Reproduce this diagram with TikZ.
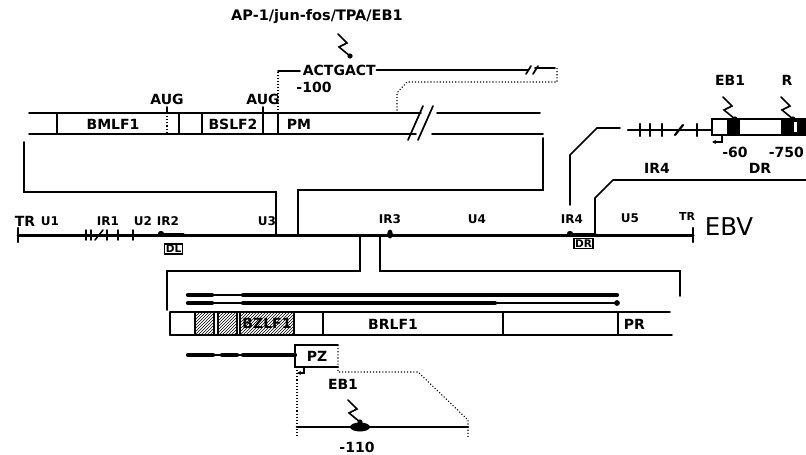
\documentclass[tikz,border=0pt]{standalone}
\usepackage{fontspec}
\setmainfont{DejaVu Sans}
\usetikzlibrary{patterns,arrows.meta}
\begin{document}
\begin{tikzpicture}[x=1pt,y=-1pt, line width=1.7pt, line cap=round,
  lab/.style={font=\bfseries\fontsize{14}{14}\selectfont, inner sep=0pt},
  glab/.style={font=\bfseries\fontsize{12}{12}\selectfont, inner sep=0pt},
  tiny/.style={font=\bfseries\fontsize{10.5}{10.5}\selectfont, inner sep=1.1pt, draw, line width=1.4pt},
  dots/.style={dotted, line width=1.1pt, line cap=butt},
  gline/.style={line width=3pt},
  hatchbox/.style={draw, pattern=north east lines},
  zap/.pic={\draw[line width=1.6pt] (-12,-22)--(-3,-13)--(-11,-9)--(0,0); \fill (0,0) circle (2.6);},
  tss/.style={-{Stealth[length=4pt,width=4pt]}, line width=1.3pt}
]
\useasboundingbox (0,0) rectangle (806,455);

% ---------- top: AP-1 site ----------
\node[font=\bfseries\fontsize{14.5}{15}\selectfont, inner sep=0pt] (ap1) at (317,17) {AP-1/jun-fos/TPA/EB1};
\pic at (350,56) {zap};
\draw[dots] (278,113) -- (278,71);
\draw (278,71) -- (300,71);
\node[lab, anchor=west] (actg) at (302,70) {ACTGACT};
\draw (actg.east) -- (528,70);
\draw (526,74) -- (531,66) (533,74) -- (538,66);
\draw (535,68) -- (555,68);
\draw[dots] (557,68) -- (557,82) -- (407,82) -- (397,93) -- (397,113);
\node[lab] (m100) at (314,87) {-100};

% ---------- top box (BMLF1/BSLF2) ----------
\draw (29,113) -- (421,113) (437,113) -- (540,113);
\draw (29,134) -- (416,134) (432,134) -- (543,134);
\draw (408,140) -- (423,106) (418,140) -- (433,106);
\draw (57,113) -- (57,134);
\draw[dots] (167,113) -- (167,134);
\draw (167,107) -- (167,113);
\draw (179,113) -- (179,134);
\draw (202,113) -- (202,134);
\draw (263,107) -- (263,134);
\draw (278,113) -- (278,134);
\node[lab] (aug1) at (167,99) {AUG};
\node[lab] (aug2) at (263,99) {AUG};
\node[lab] (bmlf) at (113,124) {BMLF1};
\node[lab] (bslf) at (233,124) {BSLF2};
\node[lab, anchor=west] (pm) at (286,124) {PM};

% bracket to genome
\draw (24,142) -- (24,192) -- (276,192) -- (276,235);
\draw (298,235) -- (298,190) -- (543,190) -- (543,138);

% ---------- genome line ----------
\draw[gline] (18,235) -- (693,235);
\draw[line width=2.2pt] (18,228) -- (18,242) (693,228) -- (693,242);
\foreach \x in {86,91,107,118,133} \draw[line width=1.5pt] (\x,230) -- (\x,240);
\draw[line width=1.5pt] (95,240) -- (103,230);
\node[font=\bfseries\fontsize{14}{14}\selectfont, inner sep=0pt] (tr1) at (25,221) {TR};
\node[glab] (u1) at (50,221) {U1};
\node[glab] (ir1) at (108,221) {IR1};
\node[glab] (u2) at (143,221) {U2};
\node[glab] (ir2) at (168,221) {IR2};
\node[glab] (u3) at (267,221) {U3};
\node[glab] (ir3) at (390,219) {IR3};
\node[glab] (u4) at (477,219) {U4};
\node[glab] (ir4) at (572,219) {IR4};
\node[glab] (u5) at (630,218) {U5};
\node[font=\bfseries\fontsize{11}{11}\selectfont, inner sep=0pt] (tr2) at (687,216) {TR};
\node[font=\fontsize{24.5}{24.5}\selectfont, inner sep=0pt, anchor=west] (ebv) at (704,227) {EBV};
% IR2 / DL
\draw[line width=4pt] (161,235) -- (183,235);
\fill (161,234) circle (3.2);
\node[tiny] (dl) at (173.5,249) {DL};
% IR3
\fill (390,234) ellipse (2.8 and 4.5);
% IR4 / DR
\draw[line width=4pt] (570,235) -- (595,235);
\fill (570,234) circle (3.2);
\node[tiny] (dr) at (583.5,243.5) {DR};

% ---------- right: IR4 / DR detail ----------
\draw (570,205) -- (570,155) -- (597,128) -- (620,128);
\draw[line width=2.2pt] (628,130) -- (712,130);
\foreach \x in {640,650,662,697} \draw[line width=2.2pt] (\x,124) -- (\x,136);
\draw[line width=2.2pt] (675,135) -- (683,125);
\fill (727,119) rectangle (740,135);
\fill (781,119) rectangle (808,135);
\fill[white] (794,122) rectangle (797,132);
\draw[line width=2.6pt] (712,119) rectangle (808,135);
\pic at (735,119) {zap};
\pic at (793,119) {zap};
\node[lab] (eb1a) at (730,80) {EB1};
\node[lab] (r) at (787,80) {R};
\draw[tss] (722,136) -- (722,142) -- (712,142);
\node[lab] (m60) at (735,152) {-60};
\node[lab, anchor=west] (m750) at (768,152) {-750};
\node[lab] (ir4b) at (657,168) {IR4};
\node[lab] (drb) at (760,168) {DR};
\draw (595,235) -- (595,198) -- (613,180) -- (810,180);

% ---------- lower bracket ----------
\draw (360,235) -- (360,271) -- (167,271) -- (167,310);
\draw (380,235) -- (380,271) -- (680,271) -- (680,296);

% transcripts
\draw[line width=4.2pt] (188,295) -- (212,295) (243,295) -- (617,295);
\draw[line width=2.4pt] (212,295) -- (243,295);
\draw[line width=4.2pt] (188,303) -- (212,303) (243,303) -- (495,303);
\draw[line width=2.4pt] (212,303) -- (243,303) (495,303) -- (617,303);
\fill (617,303) circle (2.9);

% ---------- lower box (BZLF1/BRLF1) ----------
\draw (170,312) -- (670,312);
\draw (170,335) -- (672,335);
\draw (170,312) -- (170,335);
\draw[hatchbox] (195,312) rectangle (214,335);
\draw[hatchbox] (218,312) rectangle (237,335);
\draw[hatchbox] (240,312) rectangle (294,335);
\draw (323,312) -- (323,335);
\draw (503,312) -- (503,335);
\draw (618,312) -- (618,335);
\node[lab] (bzlf) at (267,323) {BZLF1};
\node[lab] (brlf) at (393,324) {BRLF1};
\node[lab, anchor=west] (pr) at (623,324) {PR};

% PZ transcript
\draw[line width=4.2pt] (188,355) -- (213,355) (222,355) -- (237,355) (243,355) -- (295,355);
\draw[line width=2.4pt] (213,355) -- (222,355) (237,355) -- (243,355);
\draw (338,345) -- (295,345) -- (295,367) -- (338,367);
\node[lab] (pz) at (317,356) {PZ};
\draw[tss] (304,367) -- (304,373) -- (297,373);
\draw[dots] (338,345) -- (338,372) -- (418,372) -- (468,420) -- (468,438);
\draw[dots] (297,367) -- (297,438);
\draw[line width=2.8pt] (297,427) -- (468,427);
\fill (360,427) ellipse (10 and 4.5);
\pic at (360,422) {zap};
\node[lab] (eb1b) at (343,384) {EB1};
\node[lab] (m110) at (357,447) {-110};
\end{tikzpicture}
\end{document}
